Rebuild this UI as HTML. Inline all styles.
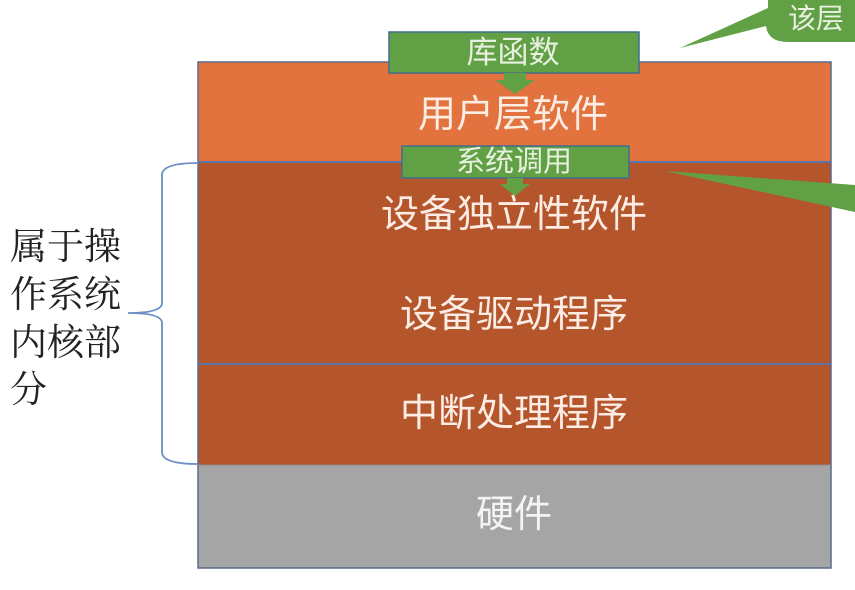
<!DOCTYPE html>
<html><head><meta charset="utf-8"><style>
html,body{margin:0;padding:0;background:#fff;width:855px;height:590px;overflow:hidden}
svg{display:block}
text{font-family:"Liberation Sans","Noto Sans CJK SC",sans-serif}
text.sf{font-family:"Liberation Serif","Noto Serif CJK SC",serif}
</style></head><body>
<svg width="855" height="590" viewBox="0 0 855 590">
<rect x="198" y="62" width="633" height="100" fill="#e2723e"/>
<rect x="198" y="162" width="633" height="303" fill="#b5552b"/>
<rect x="198" y="465" width="633" height="103" fill="#a5a5a5"/>
<rect x="198" y="62" width="633" height="506" fill="none" stroke="#5a6a8a" stroke-width="1.5"/>
<line x1="198" y1="162" x2="831" y2="162" stroke="#5b74a8" stroke-width="2"/>
<line x1="198" y1="364" x2="831" y2="364" stroke="#5b74a8" stroke-width="2"/>
<line x1="198" y1="465" x2="831" y2="465" stroke="#8a8a8a" stroke-width="1"/>
<path d="M680,48 L768,8 L768,-10 L855,-10 L855,42 L788,42 Q768,42 766,26 Z" fill="#62a046"/>
<path d="M665,171 L855,185 L855,212 Z" fill="#62a046"/>
<text x="788" y="28" font-size="28" fill="#e8f0e0">该层</text>
<rect x="389" y="32" width="250" height="41" fill="#62a046" stroke="#3f6e8e" stroke-width="1.5"/>
<path d="M504,73 L526,73 L526,80 L535,80 L515,94 L495,80 L504,80 Z" fill="#62a046"/>
<text x="513" y="63" font-size="31" fill="#e8f0e0" text-anchor="middle">库函数</text>
<rect x="402" y="146" width="227" height="32" fill="#62a046" stroke="#3f6e8e" stroke-width="1.5"/>
<path d="M507,178 L523,178 L523,184 L530,184 L515,196 L500,184 L507,184 Z" fill="#62a046"/>
<text x="514" y="171" font-size="29" fill="#e8f0e0" text-anchor="middle">系统调用</text>
<g font-size="38" fill="#fbece4" text-anchor="middle">
<text x="513" y="127">用户层软件</text>
<text x="514" y="227">设备独立性软件</text>
<text x="514" y="327">设备驱动程序</text>
<text x="514" y="426">中断处理程序</text>
<text x="514" y="527" fill="#f4f4f4">硬件</text>
</g>
<path d="M198,163 Q162,163 162,175 L162,303 Q162,313 128,313 Q162,313 162,323 L162,452 Q162,464 198,464" fill="none" stroke="#6a8fc4" stroke-width="1.8"/>
<g font-size="37" fill="#222">
<text class="sf" x="10" y="259">属于操</text>
<text class="sf" x="10" y="307">作系统</text>
<text class="sf" x="10" y="355">内核部</text>
<text class="sf" x="10" y="402">分</text>
</g>
</svg>
</body></html>
